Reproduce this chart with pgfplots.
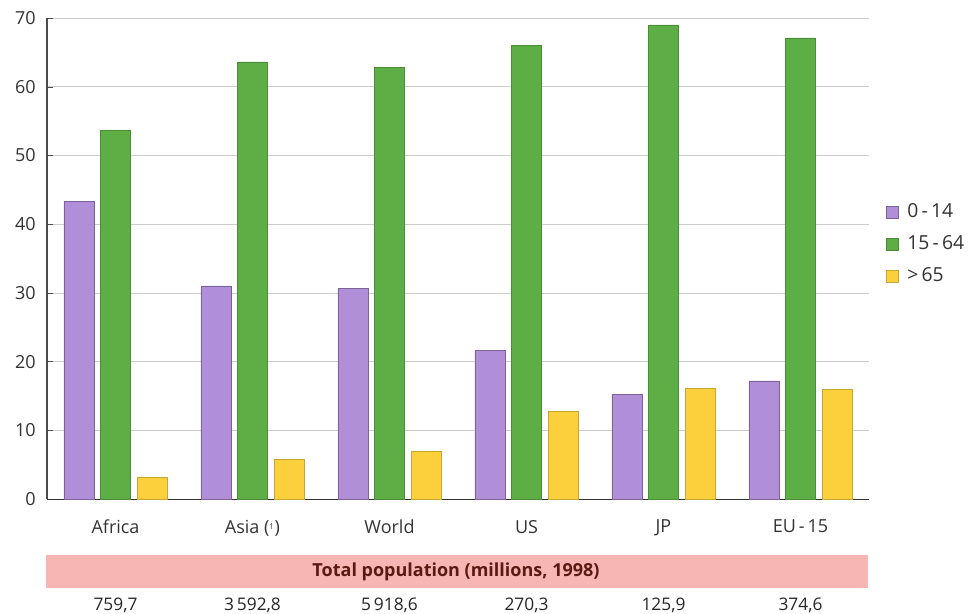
\documentclass[border=0pt]{standalone}
\usepackage{pgfplots}
\pgfplotsset{compat=1.18}
\usepackage{fontspec}
\setmainfont{Open Sans}
\definecolor{cpurple}{HTML}{B08ED8}
\definecolor{cgreen}{HTML}{5DAF45}
\definecolor{cyellow}{HTML}{FCD03C}
\definecolor{cband}{HTML}{F7B5B3}
\definecolor{ctitle}{HTML}{5A1A14}
\begin{document}
\begin{tikzpicture}
\useasboundingbox (-35.25pt,-86.25pt) rectangle (696pt,374.25pt);
\fill[cband] (-0.75pt,-42pt) rectangle (615.75pt,-66.75pt);
\begin{axis}[
  at={(0,0)}, anchor=south west,
  scale only axis, width=616.5pt, height=360.75pt,
  xmin=-0.5, xmax=5.5, ymin=0, ymax=70,
  ytick={0,10,...,70},
  xtick={0,1,2,3,4,5},
  xticklabels={Africa, Asia ({\fontsize{8}{9}\selectfont$^{\mathrm{1}}$}), World, US, JP, EU\,-\,15},
  extra x ticks={0.5,1.5,2.5,3.5,4.5,5.5},
  extra x tick labels={},
  extra x tick style={major tick length=5pt, tick style={black!70, thin}, grid=none},
  axis x line*=bottom, axis y line*=left,
  x axis line style={-, black!80},
  y axis line style={-, black!70, line width=0.8pt},
  major x tick style={draw=none},
  ytick style={black!70},
  ymajorgrids, grid style={black!20, line width=0.5pt},
  ybar, bar width=22.5pt,
  clip=false,
  ticklabel style={text=black!80},
  yticklabel style={font=\fontsize{13.5}{15}\selectfont, xshift=-5pt},
  xticklabel style={font=\fontsize{13.5}{15}\selectfont, yshift=-8pt},
  /pgf/number format/assume math mode=true,
  legend cell align=left,
  legend style={draw=none, at={(1.015,0.625)}, anchor=north west, font=\fontsize{14.5}{16}\selectfont, text=black!80, row sep=8pt},
  legend image code/.code={\draw[#1, line width=0.3pt] (0pt,-4.5pt) rectangle (9pt,4.5pt); \path (14pt,0pt);},
]
\addplot[fill=cpurple, draw=cpurple!70!black, line width=0.4pt, bar shift=-27.4pt] coordinates {(0,43.3) (1,31.0) (2,30.7) (3,21.6) (4,15.2) (5,17.2)};
\addplot[fill=cgreen, draw=cgreen!80!black, line width=0.4pt, bar shift=0pt] coordinates {(0,53.6) (1,63.6) (2,62.8) (3,66.0) (4,69.0) (5,67.1)};
\addplot[fill=cyellow, draw=cyellow!80!black, line width=0.4pt, bar shift=27.4pt] coordinates {(0,3.1) (1,5.8) (2,6.9) (3,12.7) (4,16.1) (5,16.0)};
\legend{0\,-\,14, 15\,-\,64, >\,65}
\node[font=\fontsize{13}{15}\selectfont, text=black!85, yshift=-79.5pt] at (axis cs:0,0) {759,7};
\node[font=\fontsize{13}{15}\selectfont, text=black!85, yshift=-79.5pt] at (axis cs:1,0) {3\,592,8};
\node[font=\fontsize{13}{15}\selectfont, text=black!85, yshift=-79.5pt] at (axis cs:2,0) {5\,918,6};
\node[font=\fontsize{13}{15}\selectfont, text=black!85, yshift=-79.5pt] at (axis cs:3,0) {270,3};
\node[font=\fontsize{13}{15}\selectfont, text=black!85, yshift=-79.5pt] at (axis cs:4,0) {125,9};
\node[font=\fontsize{13}{15}\selectfont, text=black!85, yshift=-79.5pt] at (axis cs:5,0) {374,6};
\end{axis}
\node[font=\bfseries\fontsize{13.5}{15}\selectfont, text=ctitle] at (306.75pt,-54.4pt) {Total population (millions, 1998)};
\end{tikzpicture}
\end{document}
